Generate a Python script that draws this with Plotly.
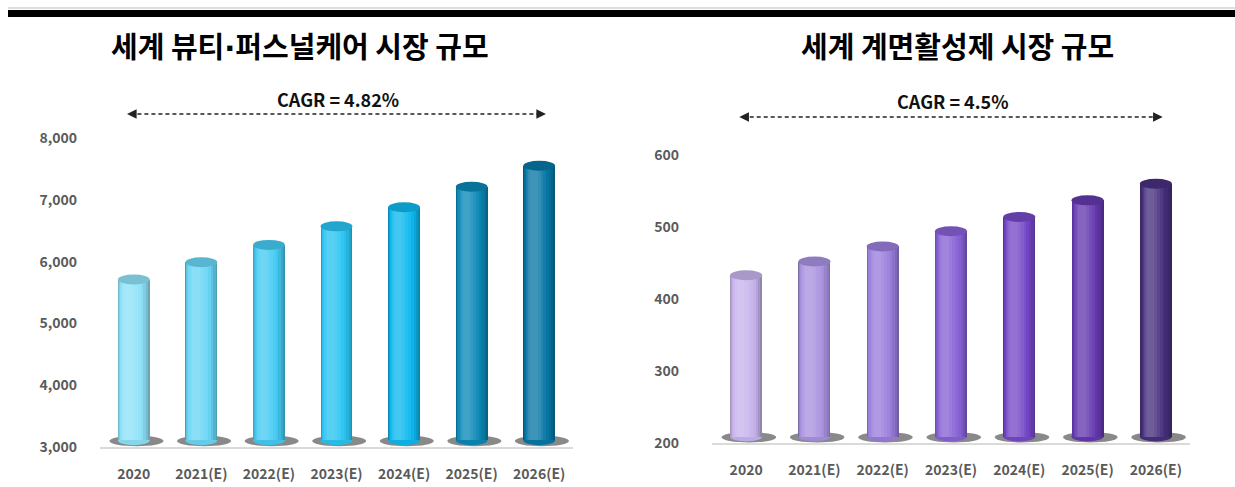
import plotly.graph_objects as go

# ---------------- data ----------------
categories = ["2020", "2021(E)", "2022(E)", "2023(E)", "2024(E)", "2025(E)", "2026(E)"]
beauty_values = [5710, 5990, 6270, 6570, 6880, 7210, 7550]
surfactant_values = [433, 452, 473, 494, 514, 537, 560]
beauty_title = "세계 뷰티·퍼스널케어 시장 규모"
surfactant_title = "세계 계면활성제 시장 규모"
beauty_cagr = "CAGR = 4.82%"
surfactant_cagr = "CAGR = 4.5%"
beauty_ticks = [3000, 4000, 5000, 6000, 7000, 8000]
surfactant_ticks = [200, 300, 400, 500, 600]

beauty_colors = ["#8EE2F8", "#6AD6F5", "#45CBF3", "#2AC4F2", "#0EB8EE", "#0A88B6", "#0777A5"]
surfactant_colors = ["#C6B4EC", "#A992E0", "#9A7EDC", "#8762D5", "#7548C6", "#6339AE", "#47307E"]

W, H = 1235, 487
FONT = "Noto Sans CJK KR"


def shade(hex_color, f):
    h = hex_color.lstrip("#")
    r, g, b = int(h[0:2], 16), int(h[2:4], 16), int(h[4:6], 16)
    if f < 0:
        r, g, b = [int(c * (1 + f)) for c in (r, g, b)]
    else:
        r, g, b = [int(c + (255 - c) * f) for c in (r, g, b)]
    return "#{:02X}{:02X}{:02X}".format(r, g, b)


def title_html(t):
    # render the middle dot in a narrow Latin font, as in the original
    return "<b>" + t.replace("·", "<span style='font-family:DejaVu Sans'>·</span>") + "</b>"


fig = go.Figure()
shapes = []
annotations = []

panels = [
    dict(vals=beauty_values, cols=beauty_colors, xa="x", ya="y", rng=[3000, 8000],
         ticks=beauty_ticks, title=beauty_title, cagr=beauty_cagr,
         xdom=[100 / W, 573 / W], ydom=[(H - 447) / H, (H - 138) / H],
         base_off=110, title_x=300, cagr_x=338, cagr_y=99, arrow_y=114),
    dict(vals=surfactant_values, cols=surfactant_colors, xa="x2", ya="y2", rng=[200, 600],
         ticks=surfactant_ticks, title=surfactant_title, cagr=surfactant_cagr,
         xdom=[712 / W, 1190 / W], ydom=[(H - 443) / H, (H - 155) / H],
         base_off=9, title_x=957, cagr_x=953, cagr_y=101, arrow_y=117),
]

# gradient layers of the cylinder body: (width, offset, shade factor)
layers = [
    (0.47, -0.235, -0.26),
    (0.44, -0.230, -0.17),
    (0.40, -0.222, -0.09),
    (0.35, -0.210, -0.02),
    (0.30, -0.195, 0.05),
    (0.24, -0.178, 0.11),
    (0.18, -0.160, 0.17),
    (0.11, -0.135, 0.22),
]

for p in panels:
    vals, cols = p["vals"], p["cols"]
    lo, hi = p["rng"]
    px_per_unit = (p["ydom"][1] - p["ydom"][0]) * H / (hi - lo)
    dy = 5 / px_per_unit
    base = lo + p["base_off"]
    n = len(vals)
    heights = [v - base for v in vals]
    for w, off, f in layers:
        fig.add_trace(go.Bar(x=categories, y=heights, base=[base] * n, width=w, offset=off,
                             marker=dict(color=[shade(c, f) for c in cols], line=dict(width=0)),
                             xaxis=p["xa"], yaxis=p["ya"], showlegend=False,
                             hoverinfo="skip"))
    xref = p["xa"]
    yref = p["ya"]
    for i, (v, c) in enumerate(zip(vals, cols)):
        # floor shadow
        shapes.append(dict(type="circle", xref=xref, yref=yref, layer="below",
                           x0=i - 0.36, x1=i + 0.44, y0=base - 1.2 * dy, y1=base + 0.9 * dy,
                           fillcolor="#3A3A3A", opacity=0.6, line=dict(width=0)))
        # bottom cap
        shapes.append(dict(type="circle", xref=xref, yref=yref, layer="between",
                           x0=i - 0.235, x1=i + 0.235, y0=base - dy, y1=base + dy,
                           fillcolor=shade(c, -0.05), line=dict(width=0)))
        # top cap
        shapes.append(dict(type="circle", xref=xref, yref=yref, layer="above",
                           x0=i - 0.235, x1=i + 0.235, y0=v - dy, y1=v + dy,
                           fillcolor=shade(c, -0.15), line=dict(width=0)))
    # title
    annotations.append(dict(text=title_html(p["title"]), x=p["title_x"] / W, y=(H - 45) / H,
                            xref="paper", yref="paper", showarrow=False, xanchor="center",
                            yanchor="middle", font=dict(family=FONT, size=29, color="#000000")))
    # CAGR
    annotations.append(dict(text="<b>" + p["cagr"] + "</b>", x=p["cagr_x"] / W, y=(H - p["cagr_y"]) / H,
                            xref="paper", yref="paper", showarrow=False, xanchor="center",
                            yanchor="middle", font=dict(family=FONT, size=18, color="#111111")))
    ay = (H - p["arrow_y"]) / H
    shapes.append(dict(type="line", xref=xref, yref="paper", x0=-0.05, x1=n - 1 + 0.05,
                       y0=ay, y1=ay, line=dict(color="#222222", width=1.6, dash="4px,3px")))
    annotations.append(dict(x=-0.1, y=ay, xref=xref, yref="paper", text="", showarrow=True,
                            ax=8, ay=0, arrowhead=2, arrowsize=1.2, arrowwidth=1.6,
                            arrowcolor="#222222"))
    annotations.append(dict(x=n - 1 + 0.1, y=ay, xref=xref, yref="paper", text="", showarrow=True,
                            ax=-8, ay=0, arrowhead=2, arrowsize=1.2, arrowwidth=1.6,
                            arrowcolor="#222222"))

# header rule
shapes.append(dict(type="line", xref="paper", yref="paper", x0=8 / W, x1=1, y0=(H - 8) / H,
                   y1=(H - 8) / H, line=dict(color="#BBBBBB", width=1)))
shapes.append(dict(type="rect", xref="paper", yref="paper", x0=8 / W, x1=1, y0=(H - 17) / H,
                   y1=(H - 10) / H, fillcolor="#000000", line=dict(width=0)))

axis_font = dict(family=FONT, size=14, color="#5A5A5A", weight="bold")
p1, p2 = panels
common_x = dict(type="category", range=[-0.5, 6.5], showline=True, linecolor="#DADADA",
                linewidth=2, ticks="", showgrid=False, tickfont=axis_font,
                ticklabelstandoff=13, zeroline=False, automargin=False, fixedrange=True)
common_y = dict(showgrid=False, zeroline=False, showline=False, ticks="", tickfont=axis_font,
                automargin=False, fixedrange=True)
fig.update_layout(
    width=W, height=H, margin=dict(l=0, r=0, t=0, b=0, pad=0, autoexpand=False),
    paper_bgcolor="white", plot_bgcolor="white",
    barmode="overlay", bargap=0, showlegend=False,
    shapes=shapes, annotations=annotations,
    xaxis=dict(domain=p1["xdom"], anchor="y", **common_x),
    yaxis=dict(domain=p1["ydom"], anchor="x", range=p1["rng"], tickvals=p1["ticks"],
               tickformat=",", ticklabelstandoff=22, **common_y),
    xaxis2=dict(domain=p2["xdom"], anchor="y2", **common_x),
    yaxis2=dict(domain=p2["ydom"], anchor="x2", range=p2["rng"], tickvals=p2["ticks"],
                ticklabelstandoff=32, **common_y),
)

fig.write_html("out.html", config={"displayModeBar": False})
